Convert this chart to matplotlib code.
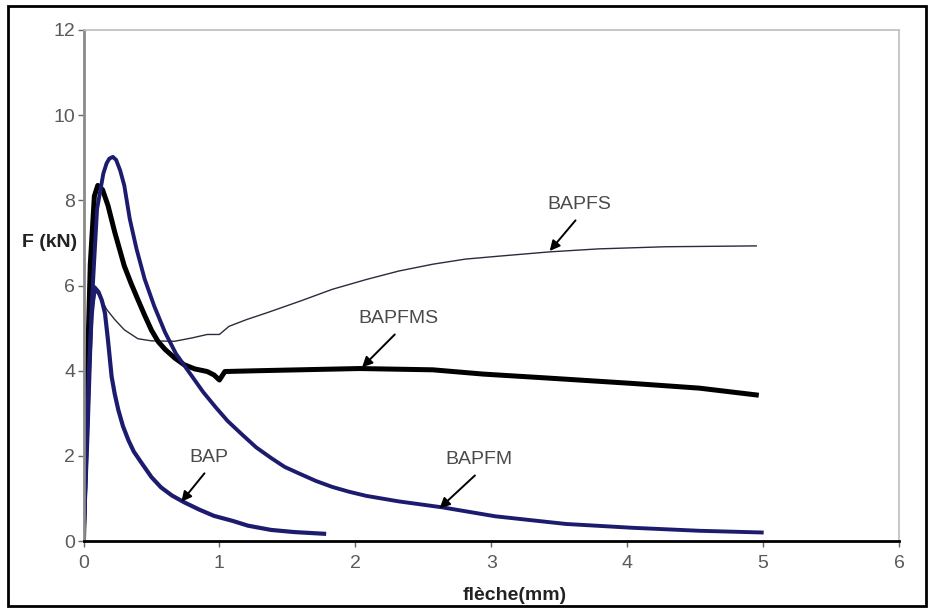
"""Load-deflection curves (F vs flèche) for the BAP family of beams."""

import matplotlib
matplotlib.use("Agg")
import matplotlib.pyplot as plt
from matplotlib.patches import Rectangle

plt.rcParams["font.family"] = ["Liberation Sans", "DejaVu Sans"]

# values (x = flèche in mm, y = F in kN)
bap_x = [0.0, 0.02, 0.04, 0.06, 0.08, 0.11, 0.135, 0.158, 0.18, 0.207, 0.23,
         0.256, 0.29, 0.33, 0.37, 0.43, 0.50, 0.57, 0.65, 0.74, 0.85, 0.96,
         1.10, 1.21, 1.38, 1.55, 1.77]
bap_y = [0.0, 2.0, 4.0, 5.3, 5.96, 5.85, 5.65, 5.35, 4.72, 3.86, 3.45,
         3.08, 2.7, 2.37, 2.1, 1.82, 1.5, 1.26, 1.07, 0.91, 0.74, 0.59,
         0.47, 0.36, 0.26, 0.21, 0.17]

bapfm_x = [0.0, 0.03, 0.06, 0.10, 0.146, 0.17, 0.19, 0.216, 0.24, 0.27, 0.30,
           0.34, 0.39, 0.45, 0.52, 0.60, 0.68, 0.80, 0.88, 0.97, 1.06, 1.16,
           1.27, 1.38, 1.48, 1.59, 1.71, 1.83, 1.95, 2.08, 2.32, 2.64, 3.03,
           3.55, 4.04, 4.53, 4.99]
bapfm_y = [0.0, 2.5, 5.5, 7.8, 8.63, 8.87, 8.98, 9.02, 8.95, 8.7, 8.35,
           7.57, 6.86, 6.15, 5.52, 4.9, 4.4, 3.86, 3.5, 3.15, 2.82, 2.52,
           2.2, 1.95, 1.74, 1.58, 1.41, 1.27, 1.16, 1.06, 0.93, 0.79, 0.58,
           0.40, 0.31, 0.24, 0.20]

bapfms_x = [0.0, 0.02, 0.05, 0.08, 0.105, 0.14, 0.18, 0.23, 0.30, 0.35, 0.40,
            0.45, 0.50, 0.55, 0.60, 0.67, 0.74, 0.82, 0.91, 0.96, 1.00, 1.04,
            1.30, 1.59, 2.03, 2.57, 2.94, 3.40, 4.04, 4.53, 4.95]
bapfms_y = [0.0, 3.0, 6.5, 8.1, 8.35, 8.25, 7.88, 7.25, 6.46, 6.05, 5.67,
            5.3, 4.95, 4.68, 4.5, 4.3, 4.14, 4.04, 3.98, 3.9, 3.78, 3.98,
            4.0, 4.02, 4.05, 4.02, 3.92, 3.83, 3.70, 3.59, 3.43]

bapfs_x = [0.0, 0.03, 0.06, 0.09, 0.12, 0.17, 0.23, 0.30, 0.40, 0.50, 0.67,
           0.80, 0.91, 1.00, 1.07, 1.20, 1.35, 1.60, 1.83, 2.08, 2.32, 2.57,
           2.81, 3.06, 3.43, 3.79, 4.28, 4.95]
bapfs_y = [0.0, 3.0, 5.3, 5.85, 5.75, 5.44, 5.2, 4.96, 4.75, 4.70, 4.69,
           4.77, 4.85, 4.85, 5.04, 5.2, 5.36, 5.64, 5.91, 6.14, 6.34, 6.5,
           6.62, 6.69, 6.79, 6.86, 6.91, 6.93]

# (label, text position, arrow tip)
labels = [
    ("BAPFS", (3.65, 7.91), (3.43, 6.81)),
    ("BAPFMS", (2.32, 5.23), (2.05, 4.08)),
    ("BAPFM", (2.91, 1.92), (2.62, 0.77)),
    ("BAP", (0.92, 1.97), (0.72, 0.92)),
]

NAVY = "#1d1b6e"

fig = plt.figure(figsize=(9.33, 6.12), dpi=100)
ax = fig.add_axes([83.5 / 933, 1 - 541 / 612, 815.5 / 933, 511 / 612])

ax.plot(bapfs_x, bapfs_y, color="#2b2b3d", lw=1.0)
ax.plot(bapfms_x, bapfms_y, color="black", lw=3.6, solid_joinstyle="round")
ax.plot(bapfm_x, bapfm_y, color=NAVY, lw=2.8, solid_joinstyle="round")
ax.plot(bap_x, bap_y, color=NAVY, lw=3.0, solid_joinstyle="round")

for name, txt, tip in labels:
    tail = (txt[0] - 0.03, txt[1] - 0.38)
    ax.annotate("", xy=tip, xytext=tail,
                arrowprops=dict(arrowstyle="-|>", color="black", lw=1.4,
                                mutation_scale=15, shrinkA=0, shrinkB=0))
    ax.text(txt[0], txt[1], name, ha="center", va="center",
            fontsize=14, color="#4a4a4a")

ax.set_xlim(0, 6)
ax.set_ylim(0, 12)
ax.set_xticks(range(0, 7))
ax.set_yticks(range(0, 13, 2))
ax.tick_params(axis="both", direction="out", length=4, width=1,
               labelsize=14, labelcolor="#5a5a5a", color="#666666")
ax.tick_params(axis="x", pad=6)
ax.tick_params(axis="y", pad=2)

ax.spines["bottom"].set_color("black")
ax.spines["bottom"].set_linewidth(2)
ax.spines["left"].set_color("#8a8a8a")
ax.spines["left"].set_linewidth(2)
for side in ("top", "right"):
    ax.spines[side].set_color("#bdbdbd")
    ax.spines[side].set_linewidth(1.2)

fig.text(50 / 933, 1 - 243 / 612, "F (kN)", ha="center", va="center",
         fontsize=14, fontweight="bold", color="#222222")
fig.text(515 / 933, 1 - 596 / 612, "flèche(mm)", ha="center", va="center",
         fontsize=14, fontweight="bold", color="#222222")

# black frame around the whole picture
fig.patches.append(Rectangle((8 / 933, 1 - 606 / 612), 918 / 933, 600 / 612,
                             transform=fig.transFigure, fill=False,
                             edgecolor="black", lw=2))

fig.savefig("out.png", dpi=100)
